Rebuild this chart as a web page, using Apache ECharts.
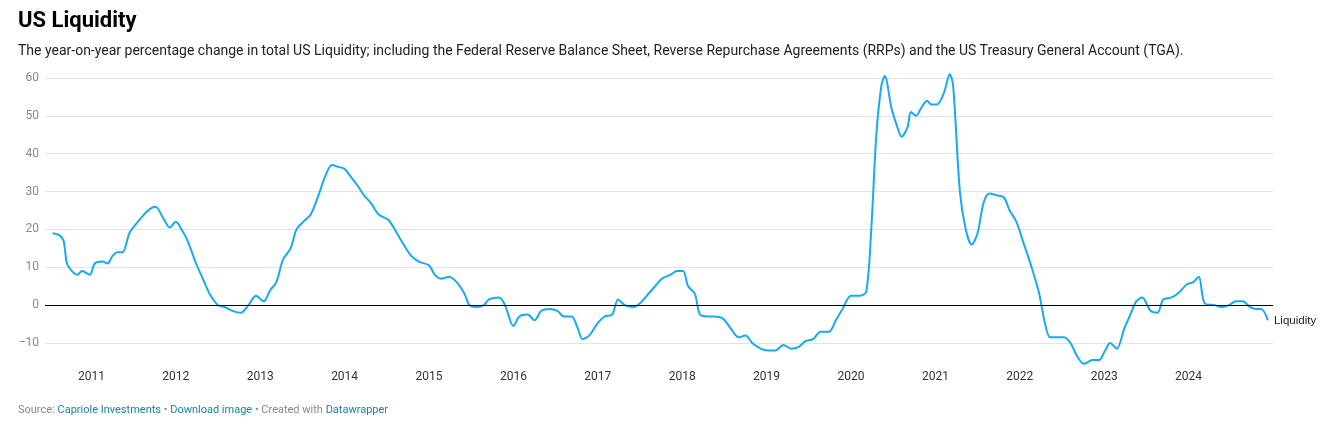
<!DOCTYPE html>
<html><head><meta charset="utf-8">
<script src="https://cdn.jsdelivr.net/npm/echarts@6/dist/echarts.min.js"></script>
<style>
body{margin:0;background:#fff;font-family:Roboto,"Noto Sans",sans-serif;}
#title{position:absolute;left:18px;top:7px;font-size:22px;font-weight:700;color:#000;}
#sub{position:absolute;left:18px;top:42px;font-size:14px;color:#222;}
#src{position:absolute;left:18px;top:403px;font-size:11px;color:#888;}
#src a{color:#1d81a2;text-decoration:none;}
#main{position:absolute;left:0;top:0;width:1339px;height:424px;}
</style></head><body>
<div id="main"></div>
<div id="title">US Liquidity</div>
<div id="sub">The year-on-year percentage change in total US Liquidity; including the Federal Reserve Balance Sheet, Reverse Repurchase Agreements (RRPs) and the US Treasury General Account (TGA).</div>
<div id="src">Source: <a>Capriole Investments</a> • <a>Download image</a> • Created with <a>Datawrapper</a></div>
<script>
// decimal years and yoy % change
var dates = [2010.54,2010.62,2010.67,2010.71,2010.77,2010.83,2010.89,2010.98,2011.04,2011.13,2011.19,2011.25,2011.31,2011.37,2011.45,2011.55,2011.67,2011.76,2011.85,2011.93,2012.0,2012.08,2012.14,2012.24,2012.32,2012.40,2012.5,2012.58,2012.67,2012.77,2012.86,2012.95,2013.04,2013.12,2013.19,2013.27,2013.36,2013.43,2013.51,2013.6,2013.69,2013.77,2013.85,2013.93,2014.0,2014.07,2014.14,2014.23,2014.31,2014.4,2014.52,2014.62,2014.7,2014.79,2014.88,2015.0,2015.07,2015.14,2015.24,2015.33,2015.42,2015.48,2015.57,2015.65,2015.71,2015.83,2015.9,2016.0,2016.07,2016.17,2016.25,2016.33,2016.43,2016.52,2016.6,2016.69,2016.76,2016.82,2016.9,2016.99,2017.08,2017.17,2017.24,2017.32,2017.42,2017.5,2017.6,2017.68,2017.76,2017.86,2017.94,2018.01,2018.07,2018.15,2018.21,2018.3,2018.38,2018.48,2018.57,2018.67,2018.75,2018.83,2018.93,2019.02,2019.1,2019.2,2019.29,2019.38,2019.46,2019.55,2019.64,2019.74,2019.82,2019.9,2020.0,2020.1,2020.18,2020.24,2020.3,2020.36,2020.4,2020.48,2020.55,2020.6,2020.67,2020.71,2020.77,2020.83,2020.9,2020.95,2021.02,2021.1,2021.17,2021.21,2021.29,2021.36,2021.43,2021.5,2021.57,2021.64,2021.73,2021.81,2021.88,2021.96,2022.05,2022.14,2022.23,2022.3,2022.36,2022.44,2022.52,2022.6,2022.68,2022.76,2022.86,2022.94,2023.01,2023.07,2023.15,2023.24,2023.3,2023.38,2023.45,2023.55,2023.63,2023.7,2023.79,2023.87,2023.98,2024.05,2024.12,2024.19,2024.31,2024.39,2024.48,2024.56,2024.64,2024.73,2024.8,2024.86,2024.94];
var values = [19,18.5,17,11,9,8,9,8,11,11.5,11,13,14,14,19,22,25,26,23,20.5,22,19.5,17,11,7,3,0,-0.5,-1.5,-2,0,2.5,1,4,6,12,15,20,22,24,29,34,37,36.5,36,34,32,29,27,24,22.5,19,16,13,11.5,10.5,8,7,7.5,6,3,0,-0.5,0,1.5,2,0,-5.5,-3,-2.5,-4,-1.5,-1,-1.5,-3,-3,-6,-9,-8,-5,-3,-2.5,1.5,0,-0.5,0.5,3,5,7,8,9,9,5,3,-2.5,-3,-3,-3.5,-6,-8.5,-8,-10,-11.5,-12,-12,-10.5,-11.5,-11,-9.5,-9,-7,-7,-4,-1,2.5,2.5,3.5,20,45,58,60.5,52,47,44.5,47,51,50,52,54,53,53,56,61,58,30,20,16,19,27,29.5,29,28.5,25,22,16,10,3,-5,-8.5,-8.5,-8.5,-10,-13.5,-15.5,-14.5,-14.5,-12,-10,-11.5,-6,-3,1,2,-1.5,-2,1.5,2,3,5.5,6,7.5,0.5,0,-0.5,0,1,1,-0.5,-1,-1,-4];
var years = [2011,2012,2013,2014,2015,2016,2017,2018,2019,2020,2021,2022,2023,2024];
var yTicks = [-10,0,10,20,30,40,50,60];

var data = dates.map(function(d,i){return [d,values[i]];});
var chart = echarts.init(document.getElementById('main'));
chart.setOption({
  animation:false,
  grid:{left:45,right:66,top:78,bottom:81},
  xAxis:{type:'value',min:2010.45,max:2025.0,
    axisLine:{show:false},axisTick:{show:false},splitLine:{show:false},
    axisLabel:{customValues:years,color:'#333',fontSize:12,margin:28,fontFamily:'Roboto',
      formatter:function(v){return String(Math.round(v));}}},
  yAxis:{type:'value',min:-10,max:60,interval:10,
    axisLine:{show:false},axisTick:{show:false},
    splitLine:{lineStyle:{color:'#e3e3e3'}},
    axisLabel:{color:'#888',fontSize:12,margin:6,fontFamily:'Roboto',
      formatter:function(v){return yTicks.indexOf(v)>=0 ? (v<0?'\u2212'+(-v):String(v)) : '';}}},
  series:[{type:'line',data:data,showSymbol:false,clip:false,smooth:0.3,
    lineStyle:{color:'#18a9f3',width:2},
    endLabel:{show:true,formatter:'Liquidity',color:'#222',fontSize:11.5,offset:[-2,1]},
    markLine:{silent:true,symbol:'none',label:{show:false},
      lineStyle:{color:'#000',width:1,type:'solid'},data:[{yAxis:0}]}}]
});
</script>
</body></html>
